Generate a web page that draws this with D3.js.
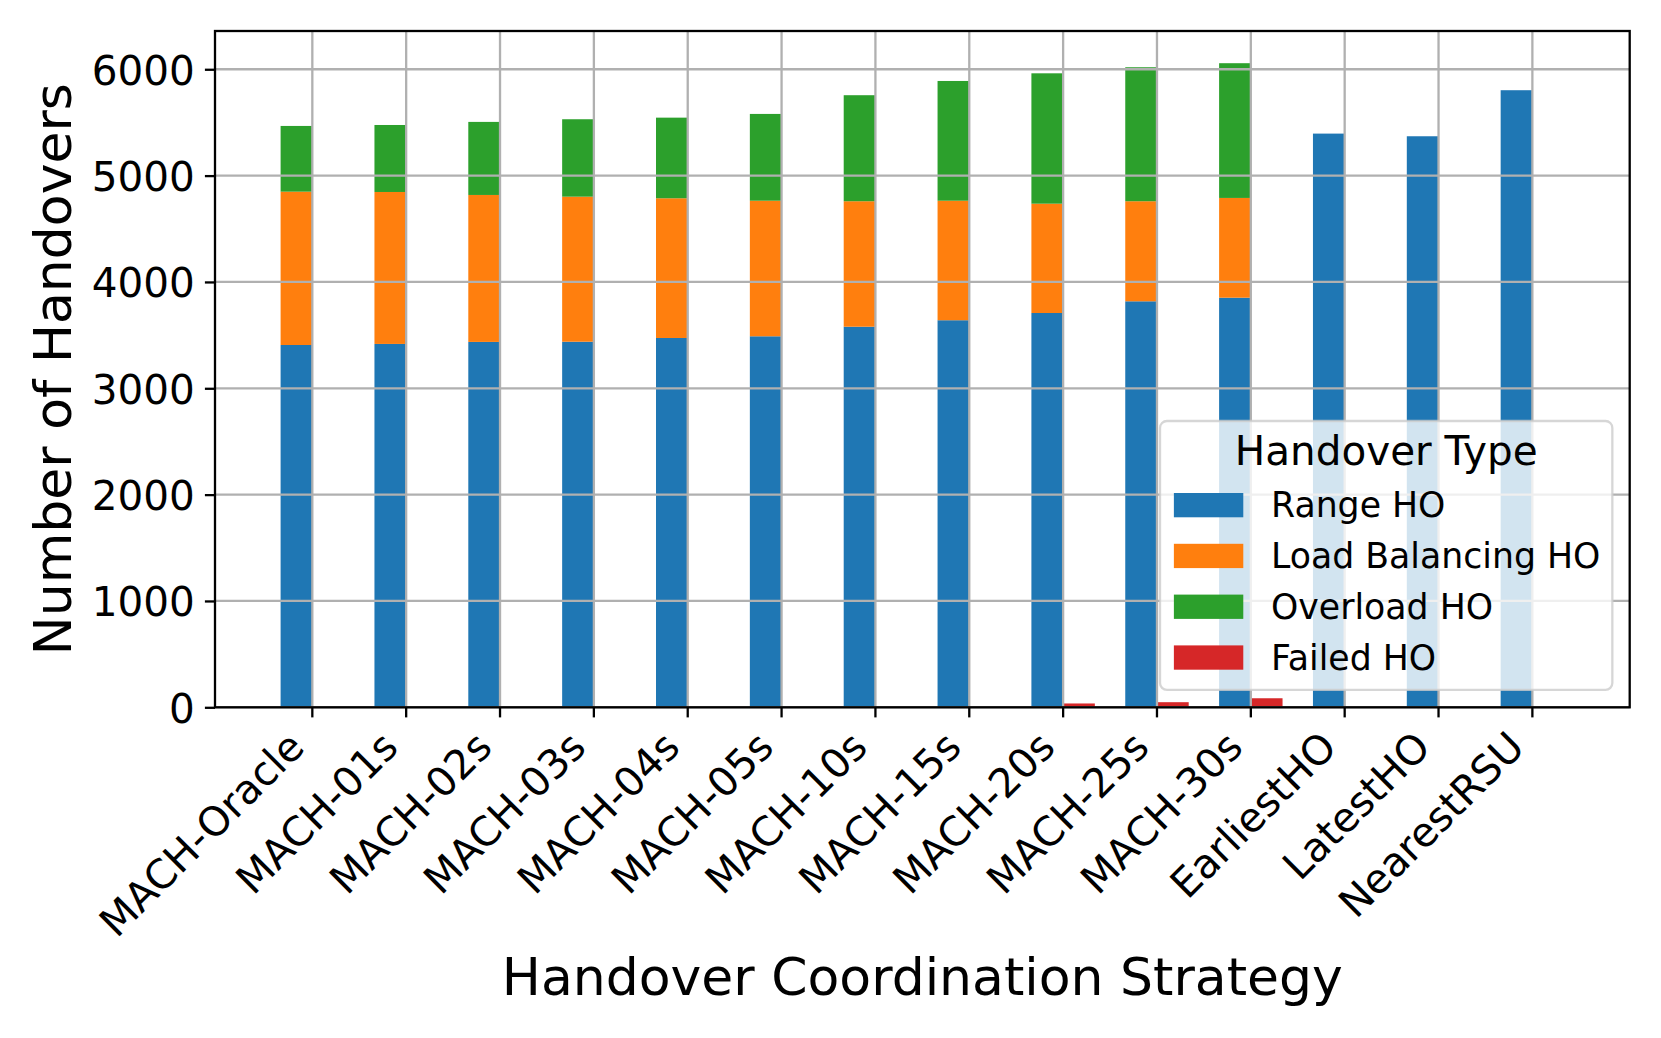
<!DOCTYPE html>
<html>
<head>
<meta charset="utf-8">
<script src="https://cdn.jsdelivr.net/npm/d3@7"></script>
<style>
  html, body { margin: 0; padding: 0; background: #fff; }
  svg { display: block; }
  text { font-family: "DejaVu Sans", sans-serif; fill: #000; }
</style>
</head>
<body>
<svg id="chart" width="1661" height="1038"></svg>
<script>
// ---- data ----
const categories = ["MACH-Oracle","MACH-01s","MACH-02s","MACH-03s","MACH-04s","MACH-05s","MACH-10s","MACH-15s","MACH-20s","MACH-25s","MACH-30s","EarliestHO","LatestHO","NearestRSU"];
const seriesNames = ["Range HO","Load Balancing HO","Overload HO","Failed HO"];
const rangeHO    = [3407,3417,3436,3438,3473,3489,3579,3640,3708,3818,3852,5395,5370,5803];
const loadBalHO  = [1442,1429,1382,1364,1314,1275,1180,1124,1028, 941, 938,   0,   0,   0];
const overloadHO = [ 618, 630, 687, 728, 758, 816, 997,1126,1226,1260,1267,   0,   0,   0];
const failedHO   = [   0,   0,   0,   0,   0,   0,   0,   0,  36,  48,  85,   0,   0,   0];
const yTicks = [0,1000,2000,3000,4000,5000,6000];
const colors = ["#1f77b4","#ff7f0e","#2ca02c","#d62728"];

// ---- layout ----
const svg = d3.select("#chart");
const L = 215, R = 1629.7, T = 31, B = 707.3;
const lw = 2.3;
const tickLen = 10.1, tickPad = 10.1;
const tickFs = 40.5, labelFs = 52, legendFs = 34.7, titleFs = 40.5;

const x = d3.scaleBand().domain(categories).range([L, R]).paddingInner(0).paddingOuter(0.537);
const yMax = d3.max(categories.map((c,i) => rangeHO[i] + loadBalHO[i] + overloadHO[i])) * 1.05;
const y = d3.scaleLinear().domain([0, yMax]).range([B, T]);
const cx = c => x(c) + x.bandwidth() / 2;
const barW = x.step() * 0.338;

// stacked data
const rows = categories.map((c,i) => ({cat:c, "Range HO":rangeHO[i], "Load Balancing HO":loadBalHO[i], "Overload HO":overloadHO[i]}));
const stack = d3.stack().keys(seriesNames.slice(0,3))(rows);

const gBars = svg.append("g");
stack.forEach((layer, li) => {
  gBars.append("g").attr("fill", colors[li])
    .selectAll("rect").data(layer).join("rect")
    .attr("x", d => cx(d.data.cat) - barW)
    .attr("width", barW)
    .attr("y", d => y(d[1]))
    .attr("height", d => Math.max(0, y(d[0]) - y(d[1])));
});
gBars.append("g").attr("fill", colors[3])
  .selectAll("rect").data(categories.map((c,i)=>({cat:c, v:failedHO[i]}))).join("rect")
  .attr("x", d => cx(d.cat))
  .attr("width", barW)
  .attr("y", d => y(d.v))
  .attr("height", d => B - y(d.v));

// grid (drawn above bars)
const gGrid = svg.append("g").attr("stroke", "#b0b0b0").attr("stroke-width", lw);
gGrid.selectAll("line.v").data(categories).join("line").attr("class","v")
  .attr("x1", d => cx(d)).attr("x2", d => cx(d)).attr("y1", T).attr("y2", B);
gGrid.selectAll("line.h").data(yTicks).join("line").attr("class","h")
  .attr("x1", L).attr("x2", R).attr("y1", d => y(d)).attr("y2", d => y(d));

// axes
const xAxis = svg.append("g").attr("transform", `translate(0,${B})`)
  .call(d3.axisBottom(x).tickSize(tickLen).tickPadding(tickPad));
xAxis.select(".domain").remove();
xAxis.selectAll(".tick line").attr("stroke", "#000").attr("stroke-width", lw);
const exOff = -5.9, eyOff = 42;
xAxis.selectAll(".tick text")
  .attr("font-size", tickFs)
  .attr("text-anchor", "end")
  .attr("x", exOff).attr("y", eyOff).attr("dy", 0)
  .attr("transform", `rotate(-45, ${exOff}, ${eyOff})`)
  .style("font-family", '"DejaVu Sans", sans-serif');

const yAxis = svg.append("g").attr("transform", `translate(${L},0)`)
  .call(d3.axisLeft(y).tickValues(yTicks).tickFormat(d3.format("d")).tickSize(tickLen).tickPadding(tickPad));
yAxis.select(".domain").remove();
yAxis.selectAll(".tick line").attr("stroke", "#000").attr("stroke-width", lw);
yAxis.selectAll(".tick text").attr("font-size", tickFs).attr("dy", "0.3645em")
  .style("font-family", '"DejaVu Sans", sans-serif');

// spines
svg.append("rect").attr("x", L).attr("y", T).attr("width", R - L).attr("height", B - T)
  .attr("fill", "none").attr("stroke", "#000").attr("stroke-width", lw);

// axis labels
svg.append("text").attr("x", (L + R) / 2).attr("y", 995).attr("text-anchor", "middle")
  .attr("font-size", labelFs).text("Handover Coordination Strategy");
svg.append("text").attr("transform", `translate(70.9,${(T + B) / 2}) rotate(-90)`)
  .attr("text-anchor", "middle").attr("font-size", labelFs).text("Number of Handovers");

// legend (lower right)
const fs = legendFs;
const lgX = 1160, lgY = 421, lgR = R - 0.5 * fs, lgB = B - 0.5 * fs;
const lg = svg.append("g");
lg.append("rect").attr("x", lgX).attr("y", lgY).attr("width", lgR - lgX).attr("height", lgB - lgY)
  .attr("rx", 0.2 * fs).attr("ry", 0.2 * fs)
  .attr("fill", "#fff").attr("fill-opacity", 0.8)
  .attr("stroke", "#cccccc").attr("stroke-opacity", 0.8).attr("stroke-width", lw);
lg.append("text").attr("x", (lgX + lgR) / 2).attr("y", 465).attr("text-anchor", "middle")
  .attr("font-size", titleFs).text("Handover Type");
const rowPitch = 50.8, firstPatchTop = 493;
const ent = lg.selectAll("g.ent").data(seriesNames).join("g").attr("class","ent")
  .attr("transform", (d,i) => `translate(${lgX + 0.4 * fs},${firstPatchTop + i * rowPitch})`);
ent.append("rect").attr("width", 2.0 * fs).attr("height", 0.7 * fs).attr("fill", (d,i) => colors[i]);
ent.append("text").attr("x", 2.0 * fs + 0.8 * fs).attr("y", 24.3).attr("font-size", fs).text(d => d);
</script>
</body>
</html>
